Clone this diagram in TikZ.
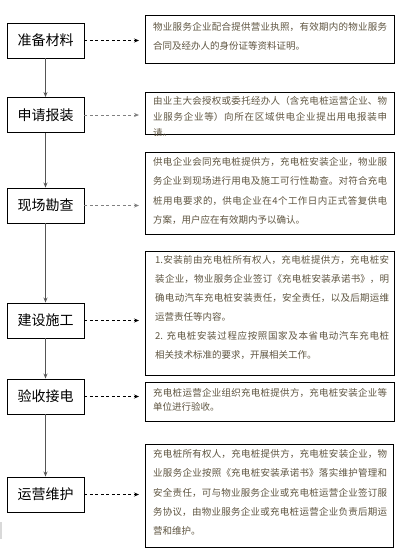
\documentclass[tikz,border=0pt]{standalone}
\usepackage{fontspec}
\newfontfamily\cjk{Noto Sans CJK SC}
\usetikzlibrary{arrows.meta}
\definecolor{textc}{RGB}{95,85,65}
\definecolor{dgray}{RGB}{85,85,85}
\newcommand\zhset{\XeTeXlinebreaklocale "zh"\XeTeXlinebreakskip=0pt plus 3pt\relax}
\begin{document}
\begin{tikzpicture}[x=1pt,y=-1pt,
  lbox/.style={draw=black,line width=0.9pt,minimum width=77pt,minimum height=35pt,inner sep=0pt,
    font=\cjk\fontsize{14}{16}\selectfont},
  rbox/.style={draw=black,line width=1pt,inner sep=0pt,anchor=north west},
  rtext/.style={anchor=base west,inner sep=0pt,text width=234pt,align=justify,text=textc,
    font={\cjk\fontsize{9.5}{#1}\selectfont\zhset}},
  varrow/.style={draw=dgray,line width=0.9pt,-{Stealth[length=5pt,width=4pt]}},
  darrow/.style={draw=black,line width=0.7pt,dash pattern=on 3pt off 2.5pt,shorten >=6pt,-{Stealth[length=5pt,width=4pt]}},
  garrow/.style={darrow,draw=gray,line width=1pt}
]
\useasboundingbox (0,0) rectangle (411,557);
\fill[white] (0,0) rectangle (411,557);

% left step boxes
\node[lbox] (l1) at (45.5,40.5) {准备材料};
\node[lbox] (l2) at (45.5,115) {申请报装};
\node[lbox] (l3) at (45.5,205.5) {现场勘查};
\node[lbox] (l4) at (45.5,320.5) {建设施工};
\node[lbox] (l5) at (45.5,396.5) {验收接电};
\node[lbox] (l6) at (45.5,494.5) {运营维护};

% right description boxes
\node[rbox,minimum width=249pt,minimum height=48pt] (r1) at (145,15) {};
\node[rbox,minimum width=249pt,minimum height=42pt] (r2) at (145,92) {};
\node[rbox,minimum width=249pt,minimum height=82pt] (r3) at (145,152) {};
\node[rbox,minimum width=249pt,minimum height=124pt] (r4) at (145,251) {};
\node[rbox,minimum width=249pt,minimum height=39pt] (r5) at (145,382) {};
\node[rbox,minimum width=248pt,minimum height=103pt] (r6) at (145,444) {};

\node[rtext=19pt] (t1) at (153,30.6) {物业服务企业配合提供营业执照，有效期内的物业服务\linebreak 合同及经办人的身份证等资料证明。};
\begin{scope}
\clip (r2.north west) rectangle (r2.south east);
\node[rtext=16pt] (t2) at (153,104.6) {由业主大会授权或委托经办人（含充电桩运营企业、物\linebreak 业服务企业等）向所在区域供电企业提出用电报装申\linebreak 请。};
\end{scope}
\node[rtext=19.3pt] (t3) at (153,165.6) {供电企业会同充电桩提供方，充电桩安装企业，物业服\linebreak 务企业到现场进行用电及施工可行性勘查。对符合充电\linebreak 桩用电要求的，供电企业在4个工作日内正式答复供电\linebreak 方案，用户应在有效期内予以确认。};
\node[rtext=19pt] (t4) at (155,263.6) {1.安装前由充电桩所有权人，充电桩提供方，充电桩安\linebreak 装企业，物业服务企业签订《充电桩安装承诺书》，明\linebreak 确电动汽车充电桩安装责任，安全责任，以及后期运维\linebreak 运营责任等内容。\\ 2. 充电桩安装过程应按照国家及本省电动汽车充电桩\linebreak 相关技术标准的要求，开展相关工作。};
\node[rtext=14pt] (t5) at (153,396.6) {充电桩运营企业组织充电桩提供方，充电桩安装企业等\linebreak 单位进行验收。};
\node[rtext=19.25pt] (t6) at (153,457.6) {充电桩所有权人，充电桩提供方，充电桩安装企业，物\linebreak 业服务企业按照《充电桩安装承诺书》落实维护管理和\linebreak 安全责任，可与物业服务企业或充电桩运营企业签订服\linebreak 务协议，由物业服务企业或充电桩运营企业负责后期运\linebreak 营和维护。};

% vertical flow arrows
\draw[varrow] (l1.south) -- (l2.north);
\draw[varrow] (l2.south) -- (l3.north);
\draw[varrow] (l3.south) -- (l4.north);
\draw[varrow] (l4.south) -- (l5.north);
\draw[varrow] (l5.south) -- (l6.north);

% dashed arrows to descriptions
\draw[darrow] (l1.east) -- (l1.east -| r1.west);
\draw[garrow] (l2.east) -- (l2.east -| r2.west);
\draw[garrow] (l3.east) -- (l3.east -| r3.west);
\draw[darrow] (l4.east) -- (l4.east -| r4.west);
\draw[darrow] (l5.east) -- (l5.east -| r5.west);
\draw[darrow] (l6.east) -- (l6.east -| r6.west);

% faint mark at lower left
\fill[black!15] (0,522) rectangle (2,539);
\end{tikzpicture}
\end{document}
